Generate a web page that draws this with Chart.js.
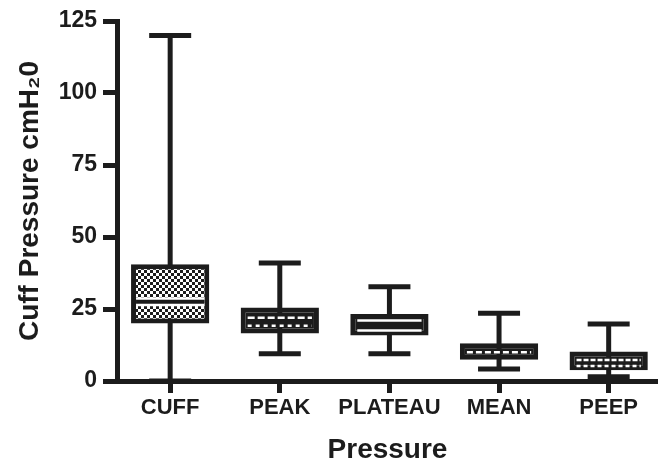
<!DOCTYPE html>
<html>
<head>
<meta charset="utf-8">
<script src="https://cdn.jsdelivr.net/npm/chart.js@4"></script>
<style>body{margin:0;background:#fff}</style>
</head>
<body>
<canvas id="box-chart" width="658" height="471"></canvas>
<script>
// box plot values (cmH2O)
const categories = ['CUFF', 'PEAK', 'PLATEAU', 'MEAN', 'PEEP'];
const minValues = [0, 9.5, 9.5, 4.2, 1.5];
const q1Values = [20, 16.5, 15.8, 7.4, 3.7];
const medianValues = [27.5, 22, 21, 10, 7.3];
const q3Values = [40.5, 25.5, 23.3, 13.1, 10.2];
const maxValues = [120, 41, 32.7, 23.5, 19.8];

const ink = '#1c1c1c';

function makePattern(w, h, draw) {
  const c = document.createElement('canvas');
  c.width = w; c.height = h;
  const g = c.getContext('2d');
  draw(g);
  return g.createPattern(c, 'repeat');
}
const checker = makePattern(6, 6, g => {
  g.fillStyle = '#fff'; g.fillRect(0, 0, 6, 6);
  g.fillStyle = ink; g.fillRect(0, 0, 3, 3); g.fillRect(3, 3, 3, 3);
});
const boxFills = [checker, ink, ink, ink, ink];

// how the median (and the fill stripe under it) looks in each box
const medianLook = [
  {type: 'band'},
  {dash: [7, 3], second: 8, secondDash: [4, 4]},
  {dash: [], second: 10, secondDash: []},
  {dash: [6, 3]},
  {dash: [5, 2], second: 6, secondDash: [4, 3]}
];

const boxParts = {
  id: 'boxParts',
  beforeDatasetsDraw(chart) {
    const ctx = chart.ctx, xs = chart.scales.x, ys = chart.scales.y;
    ctx.save();
    ctx.strokeStyle = ink;
    ctx.lineWidth = 5;
    categories.forEach((c, i) => {
      const px = xs.getPixelForValue(i);
      ctx.beginPath();
      ctx.moveTo(px, ys.getPixelForValue(minValues[i]));
      ctx.lineTo(px, ys.getPixelForValue(maxValues[i]));
      ctx.stroke();
      [minValues[i], maxValues[i]].forEach(v => {
        const py = ys.getPixelForValue(v);
        ctx.beginPath();
        ctx.moveTo(px - 21, py);
        ctx.lineTo(px + 21, py);
        ctx.stroke();
      });
    });
    ctx.restore();
  },
  afterDatasetsDraw(chart) {
    const ctx = chart.ctx, ys = chart.scales.y;
    const bars = chart.getDatasetMeta(0).data;
    ctx.save();
    categories.forEach((c, i) => {
      const el = bars[i];
      const x0 = el.x - el.width / 2 + 5, x1 = el.x + el.width / 2 - 5;
      const py = ys.getPixelForValue(medianValues[i]);
      const look = medianLook[i];
      if (look.type === 'band') {
        ctx.strokeStyle = '#fff'; ctx.lineWidth = 9;
        ctx.beginPath(); ctx.moveTo(x0, py); ctx.lineTo(x1, py); ctx.stroke();
        ctx.strokeStyle = ink; ctx.lineWidth = 4;
        ctx.beginPath(); ctx.moveTo(x0, py); ctx.lineTo(x1, py); ctx.stroke();
        return;
      }
      ctx.strokeStyle = '#fff';
      ctx.lineWidth = 2.5;
      ctx.setLineDash(look.dash);
      ctx.beginPath(); ctx.moveTo(x0 + 2, py); ctx.lineTo(x1 - 2, py); ctx.stroke();
      if (look.second) {
        ctx.setLineDash(look.secondDash);
        ctx.beginPath(); ctx.moveTo(x0 + 2, py + look.second); ctx.lineTo(x1 - 2, py + look.second); ctx.stroke();
      }
      ctx.setLineDash([]);
    });
    ctx.restore();
  }
};

new Chart(document.getElementById('box-chart'), {
  type: 'bar',
  data: {
    datasets: [{
      data: categories.map((c, i) => ({x: i, y: [q1Values[i], q3Values[i]]})),
      backgroundColor: boxFills,
      borderColor: ink,
      borderWidth: 5,
      borderSkipped: false,
      categoryPercentage: 1,
      barPercentage: 0.714
    }]
  },
  options: {
    responsive: false,
    animation: false,
    layout: {padding: {top: 21, right: 0, left: 0, bottom: 0}},
    plugins: {legend: {display: false}, tooltip: {enabled: false}},
    scales: {
      x: {
        type: 'linear',
        offset: false,
        min: -0.485,
        max: 4.45,
        afterFit: s => { s.height = 90; },
        border: {display: true, color: ink, width: 5},
        grid: {offset: false, drawOnChartArea: false, tickLength: 12, tickWidth: 5, tickColor: ink},
        ticks: {
          stepSize: 1,
          includeBounds: false,
          autoSkip: false,
          maxRotation: 0,
          padding: 2,
          color: ink,
          font: {family: '"Liberation Sans Narrow", Arial, sans-serif', size: 22, weight: 'bold'},
          callback: v => categories[v] ?? ''
        },
        title: {
          display: true,
          text: 'Pressure',
          color: ink,
          padding: {top: 0, bottom: 4},
          font: {family: 'Arial, "Liberation Sans", sans-serif', size: 28, weight: 'bold'}
        }
      },
      y: {
        min: 0,
        max: 125,
        afterFit: s => { s.width = 117; },
        border: {display: true, color: ink, width: 5},
        grid: {drawOnChartArea: false, tickLength: 14, tickWidth: 5, tickColor: ink},
        ticks: {
          stepSize: 25,
          padding: 6,
          color: ink,
          font: {family: 'Arial, "Liberation Sans", sans-serif', size: 23, weight: 'bold'}
        },
        title: {
          display: true,
          text: 'Cuff Pressure cmH₂0',
          color: ink,
          padding: {top: 13, bottom: 0},
          font: {family: 'Arial, "Liberation Sans", sans-serif', size: 28, weight: 'bold'}
        }
      }
    }
  },
  plugins: [boxParts]
});
</script>
</body>
</html>
